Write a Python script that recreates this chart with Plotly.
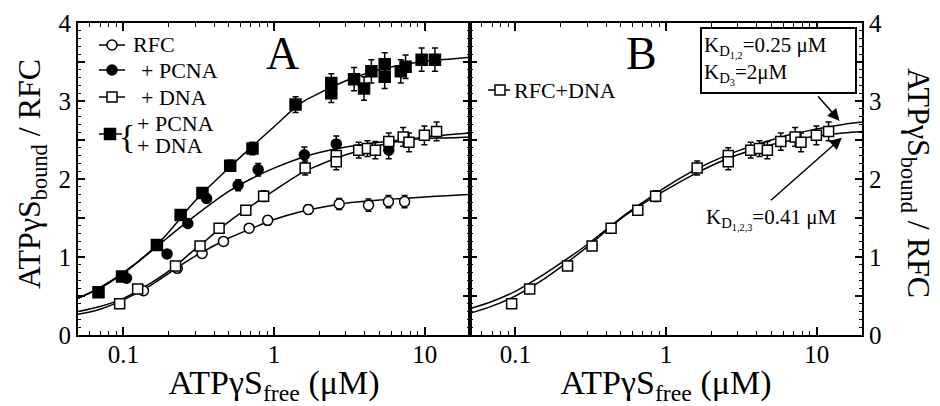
import plotly.graph_objects as go
import math

# ---------------- data ----------------
# Panel A: RFC alone (open circles)
rfc_x = [0.136, 0.228, 0.333, 0.462, 0.684, 0.908, 1.69, 2.71, 4.24, 5.75, 7.36]
rfc_y = [0.568, 0.855, 1.046, 1.20, 1.37, 1.47, 1.61, 1.68, 1.665, 1.71, 1.71]
rfc_err = [0.02, 0.03, 0.03, 0.03, 0.04, 0.06, 0.06, 0.07, 0.08, 0.08, 0.08]

# + PCNA (filled circles)
pcna_x = [0.105, 0.195, 0.268, 0.357, 0.578, 0.785, 1.59, 2.59, 5.78]
pcna_y = [0.727, 1.04, 1.43, 1.75, 1.92, 2.12, 2.31, 2.45, 2.37]
pcna_err = [0.02, 0.03, 0.04, 0.05, 0.07, 0.08, 0.10, 0.10, 0.11]

# + DNA (open squares) -- also shown in panel B as RFC+DNA
dna_x = [0.0945, 0.1245, 0.222, 0.323, 0.432, 0.65, 0.853, 1.61, 2.59, 2.59,
         3.65, 4.17, 4.71, 5.78, 7.2, 7.87, 9.96, 12.0]
dna_y = [0.40, 0.59, 0.885, 1.14, 1.37, 1.60, 1.78, 2.14, 2.30, 2.22,
         2.37, 2.39, 2.37, 2.48, 2.54, 2.47, 2.56, 2.61]
dna_err = [0.02, 0.02, 0.03, 0.03, 0.04, 0.05, 0.07, 0.09, 0.10, 0.10,
           0.10, 0.10, 0.11, 0.11, 0.12, 0.12, 0.12, 0.12]

# + PCNA + DNA (filled squares)
pd_x = [0.0684, 0.098, 0.167, 0.24, 0.335, 0.512, 0.72, 1.39, 2.4, 2.4,
        3.4, 3.96, 4.43, 5.43, 5.43, 6.95, 7.47, 9.55, 11.7]
pd_y = [0.547, 0.75, 1.153, 1.54, 1.82, 2.17, 2.39, 2.954, 3.23, 3.10,
        3.28, 3.16, 3.38, 3.47, 3.31, 3.38, 3.44, 3.53, 3.53]
pd_err = [0.02, 0.02, 0.03, 0.04, 0.06, 0.07, 0.08, 0.10, 0.12, 0.12,
          0.15, 0.15, 0.15, 0.15, 0.15, 0.15, 0.15, 0.15, 0.15]

# Fitted curves at these concentrations
curve_x = [0.05, 0.07, 0.1, 0.15, 0.2, 0.3, 0.5, 0.7, 1, 1.5, 2, 3, 5, 7, 10, 15, 20]
fit_rfc = [0.265, 0.33, 0.45, 0.63, 0.79, 1.01, 1.24, 1.36, 1.48, 1.58, 1.63, 1.69, 1.73, 1.75, 1.77, 1.79, 1.80]
fit_dna = [0.30, 0.365, 0.47, 0.66, 0.82, 1.10, 1.45, 1.65, 1.85, 2.07, 2.18, 2.31, 2.43, 2.49, 2.54, 2.57, 2.59]
fit_pcna = [0.47, 0.60, 0.79, 1.06, 1.26, 1.53, 1.84, 2.00, 2.14, 2.27, 2.34, 2.41, 2.47, 2.50, 2.52, 2.53, 2.54]
fit_pd = [0.47, 0.61, 0.80, 1.07, 1.32, 1.72, 2.14, 2.40, 2.67, 2.97, 3.10, 3.26, 3.40, 3.46, 3.51, 3.54, 3.56]
# Panel B fits
fit_two_kd = [0.34, 0.43, 0.56, 0.76, 0.92, 1.16, 1.50, 1.70, 1.90, 2.10, 2.22, 2.36, 2.50, 2.58, 2.64, 2.70, 2.73]
fit_one_kd = [0.28, 0.37, 0.50, 0.70, 0.87, 1.13, 1.49, 1.68, 1.86, 2.05, 2.17, 2.31, 2.44, 2.50, 2.55, 2.59, 2.61]

# axis ticks
x_major = [0.1, 1, 10]
x_major_text = ["0.1", "1", "10"]
x_minor = [0.05, 0.06, 0.07, 0.08, 0.09, 0.2, 0.3, 0.4, 0.5, 0.6, 0.7, 0.8, 0.9,
           2, 3, 4, 5, 6, 7, 8, 9, 20]

FONT = "Liberation Serif"

# page geometry (the page body adds an 8px margin)
FIG_W, FIG_H = 932, 398
PL, PT, PW, PH = 78, 23, 784, 312   # plot area on screen


def px(sx):
    return (sx - PL) / PW


def py(sy):
    return 1 - (sy - PT) / PH


fig = go.Figure()


def curve(x, y, xa, ya):
    fig.add_trace(go.Scatter(x=x, y=y, mode="lines", line=dict(color="black", width=1.5, shape="spline"),
                             xaxis=xa, yaxis=ya, showlegend=False, hoverinfo="skip"))


def points(x, y, err, symbol, fill, xa, ya, name, size=10):
    fig.add_trace(go.Scatter(x=x, y=y, mode="markers", xaxis=xa, yaxis=ya, showlegend=False, name=name,
                             marker=dict(symbol=symbol, size=size, color=fill,
                                         line=dict(color="black", width=1.5)),
                             error_y=dict(type="data", array=err, color="black", thickness=1.5, width=3)))


# Panel A
for fy in (fit_rfc, fit_dna, fit_pcna, fit_pd):
    curve(curve_x, fy, "x", "y")
points(rfc_x, rfc_y, rfc_err, "circle", "white", "x", "y", "RFC")
points(pcna_x, pcna_y, pcna_err, "circle", "black", "x", "y", "+ PCNA")
points(dna_x, dna_y, dna_err, "square", "white", "x", "y", "+ DNA")
points(pd_x, pd_y, pd_err, "square", "black", "x", "y", "+ PCNA + DNA", size=11)

# Panel B
curve(curve_x, fit_two_kd, "x2", "y2")
curve(curve_x, fit_one_kd, "x2", "y2")
points(dna_x, dna_y, dna_err, "square", "white", "x2", "y2", "RFC+DNA")

xrange = [math.log10(0.05), math.log10(20)]


def xaxis_cfg(domain, anchor):
    return dict(domain=domain, anchor=anchor, type="log", range=xrange,
                tickmode="array", tickvals=x_major, ticktext=x_major_text,
                ticks="inside", ticklen=8, tickwidth=1.5, tickcolor="black",
                minor=dict(tickmode="array", tickvals=x_minor, ticks="inside", ticklen=4,
                           tickwidth=1.2, tickcolor="black", showgrid=False),
                showline=True, linecolor="black", linewidth=2, mirror="allticks",
                showgrid=False, zeroline=False, ticklabelstandoff=-4,
                tickfont=dict(family=FONT, size=25, color="black"),
                title=dict(text="ATPγS<sub>free</sub> (μM)", font=dict(family=FONT, size=34, color="black"),
                           standoff=0),
                automargin=False)


def yaxis_cfg(anchor, side):
    return dict(anchor=anchor, side=side, range=[0, 4], domain=[0, 1],
                tickmode="linear", tick0=0, dtick=0.5, ticklabelstep=2,
                ticks="inside", ticklen=7, tickwidth=1.5, tickcolor="black",
                minor=dict(dtick=0.1, ticks="inside", ticklen=3, tickwidth=1.2,
                           tickcolor="black", showgrid=False),
                showline=True, linecolor="black", linewidth=2, mirror="allticks",
                showgrid=False, zeroline=False,
                tickfont=dict(family=FONT, size=25, color="black"),
                automargin=False)


def txt(text, sx, sy, size, xanchor="center", **kw):
    d = dict(text=text, x=px(sx), y=py(sy), xref="paper", yref="paper", showarrow=False,
             xanchor=xanchor, yanchor="middle", font=dict(family=FONT, size=size, color="black"))
    d.update(kw)
    return d


annotations = [
    txt("A", 282, 54, 46),
    txt("B", 641, 54, 46),
    # legend texts (panel A)
    txt("RFC", 131, 45, 22, xanchor="left"),
    txt("+ PCNA", 139, 70, 22, xanchor="left"),
    txt("+ DNA", 139, 97, 22, xanchor="left"),
    txt("{", 127, 136, 34, borderpad=0),
    txt("+ PCNA", 136, 124, 22, xanchor="left", borderpad=0),
    txt("+ DNA", 136, 146, 22, xanchor="left", borderpad=0),
    # legend text (panel B)
    txt("RFC+DNA", 512, 90, 22, xanchor="left"),
    # fit-parameter boxes
    txt("K<sub>D<sub>1,2</sub></sub>=0.25 μM<br>K<sub>D<sub>3</sub></sub>=2μM", 778.5, 60.5, 21,
        align="left", bordercolor="black", borderwidth=2, borderpad=2, bgcolor="white",
        width=149, height=59),
    txt("K<sub>D<sub>1,2,3</sub></sub>=0.41 μM", 771, 219, 21),
    # arrows
    dict(text="", x=math.log10(14.2), y=2.745, xref="x2", yref="y2",
         ax=math.log10(10), ay=3.08, axref="x2", ayref="y2",
         showarrow=True, arrowhead=2, arrowsize=1.6, arrowwidth=1.5, arrowcolor="black"),
    dict(text="", x=math.log10(14.7), y=2.53, xref="x2", yref="y2",
         ax=math.log10(4.86), ay=1.71, axref="x2", ayref="y2",
         showarrow=True, arrowhead=2, arrowsize=1.6, arrowwidth=1.5, arrowcolor="black"),
    # y-axis titles
    txt("ATPγS<sub>bound</sub> / RFC", 31, 174, 32, textangle=-90),
    txt("ATPγS<sub>bound</sub> / RFC", 917, 183, 32, textangle=90),
]

# legend keys: short line with a marker
shapes = []


def key(sx0, sx1, sx, sy, kind, fill, r=5):
    shapes.append(dict(type="line", xref="paper", yref="paper", x0=px(sx0), x1=px(sx1),
                       y0=py(sy), y1=py(sy), line=dict(color="black", width=1.5)))
    shapes.append(dict(type=kind, xref="paper", yref="paper", xsizemode="pixel", ysizemode="pixel",
                       xanchor=px(sx), yanchor=py(sy), x0=-r, x1=r, y0=-r, y1=r,
                       fillcolor=fill, line=dict(color="black", width=1.5)))


key(99, 125, 112, 45, "circle", "white")
key(99, 125, 112, 70, "circle", "black")
key(99, 125, 112, 97, "rect", "white")
key(99, 122, 110, 134, "rect", "black", r=5.5)
key(488, 510, 500, 90, "rect", "white")

fig.update_layout(
    width=FIG_W, height=FIG_H,
    margin=dict(l=PL - 8, r=FIG_W - (PL - 8) - PW, t=PT - 8, b=FIG_H - (PT - 8) - PH),
    paper_bgcolor="white", plot_bgcolor="white",
    xaxis=xaxis_cfg([0, 0.5], "y"),
    xaxis2=xaxis_cfg([0.5, 1], "y2"),
    yaxis=yaxis_cfg("x", "left"),
    yaxis2=yaxis_cfg("x2", "right"),
    annotations=annotations,
    shapes=shapes,
    showlegend=False,
)

fig.write_html("out.html")
